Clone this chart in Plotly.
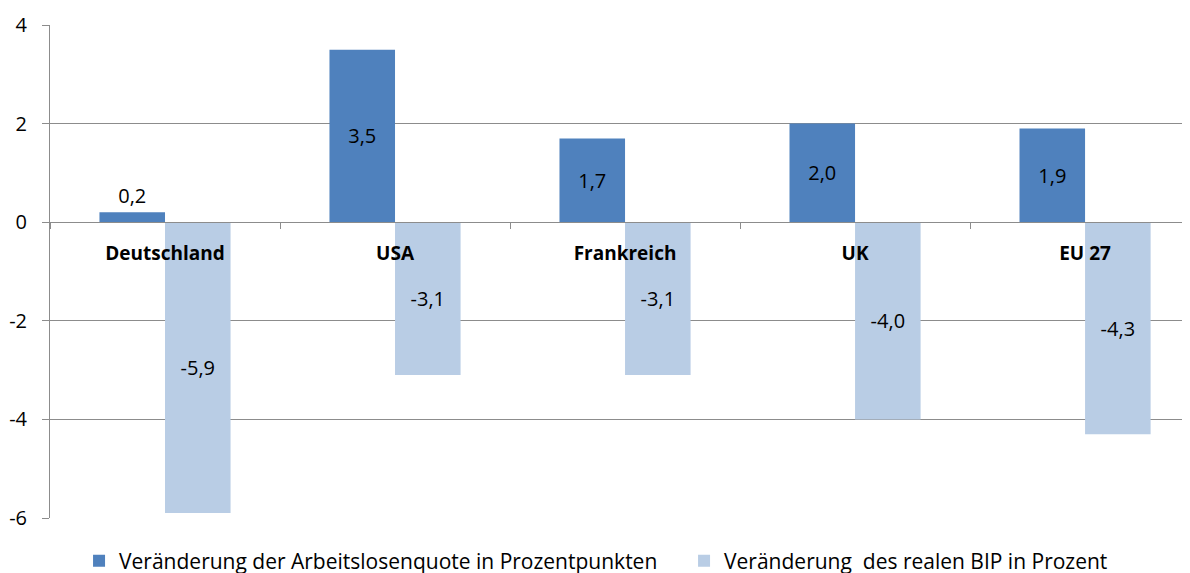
import plotly.graph_objects as go

categories = ["Deutschland", "USA", "Frankreich", "UK", "EU 27"]
arbeitslosenquote = [0.2, 3.5, 1.7, 2.0, 1.9]
bip = [-5.9, -3.1, -3.1, -4.0, -4.3]
series_names = ["Veränderung der Arbeitslosenquote in Prozentpunkten",
                "Veränderung\u00a0 des realen BIP in Prozent"]
y_ticks = [4, 2, 0, -2, -4, -6]
y_ticktext = [str(v) for v in y_ticks]

FONT = "Open Sans"
DARK = "#4F81BD"
LIGHT = "#B9CDE5"
GRID = "#8C8C8C"


def fmt(v):
    return f"{v:.1f}".replace(".", ",")


fig = go.Figure()
fig.add_trace(go.Bar(
    x=categories, y=arbeitslosenquote, name=series_names[0],
    marker=dict(color=DARK, line=dict(width=0)),
    text=[fmt(v) for v in arbeitslosenquote],
    textposition=["outside" if v < 0.5 else "inside" for v in arbeitslosenquote],
    insidetextanchor="middle",
    textfont=dict(family=FONT, size=20, color="black"),
    cliponaxis=False,
    legendwidth=560,
))
fig.add_trace(go.Bar(
    x=categories, y=bip, name=series_names[1],
    marker=dict(color=LIGHT, line=dict(width=0)),
    text=[fmt(v) for v in bip],
    textposition="inside",
    insidetextanchor="middle",
    textfont=dict(family=FONT, size=20, color="black"),
    cliponaxis=False,
))

fig.update_layout(
    width=1190, height=573,
    margin=dict(l=42, r=0, t=17, b=63, autoexpand=False),
    paper_bgcolor="white", plot_bgcolor="white",
    barmode="group", bargap=0.43, bargroupgap=0,
    font=dict(family=FONT, size=20, color="black"),
    showlegend=True,
    legend=dict(orientation="h", x=0.0253, xanchor="left", y=-0.046, yanchor="top",
                font=dict(family=FONT, size=21, color="black"),
                bgcolor="rgba(0,0,0,0)"),
)
fig.update_xaxes(
    type="category", range=[-0.5, 4.491],
    anchor="free", position=0.6,
    showline=True, linecolor=GRID, linewidth=1,
    ticks="outside", tickson="boundaries", ticklen=6, tickcolor=GRID, tickwidth=1,
    showgrid=False, zeroline=False,
    tickfont=dict(family=FONT, size=19, color="black", weight="bold"),
    ticklabelstandoff=14,
)
fig.update_yaxes(
    range=[-6, 4], tickvals=y_ticks, ticktext=y_ticktext,
    showline=True, linecolor=GRID, linewidth=1,
    ticks="outside", ticklen=7, tickcolor=GRID, tickwidth=1,
    showgrid=True, gridcolor=GRID, gridwidth=1,
    zeroline=True, zerolinecolor=GRID, zerolinewidth=1,
    tickfont=dict(family=FONT, size=20, color="black"),
    ticklabelstandoff=11,
)

fig.write_html("out.html")
